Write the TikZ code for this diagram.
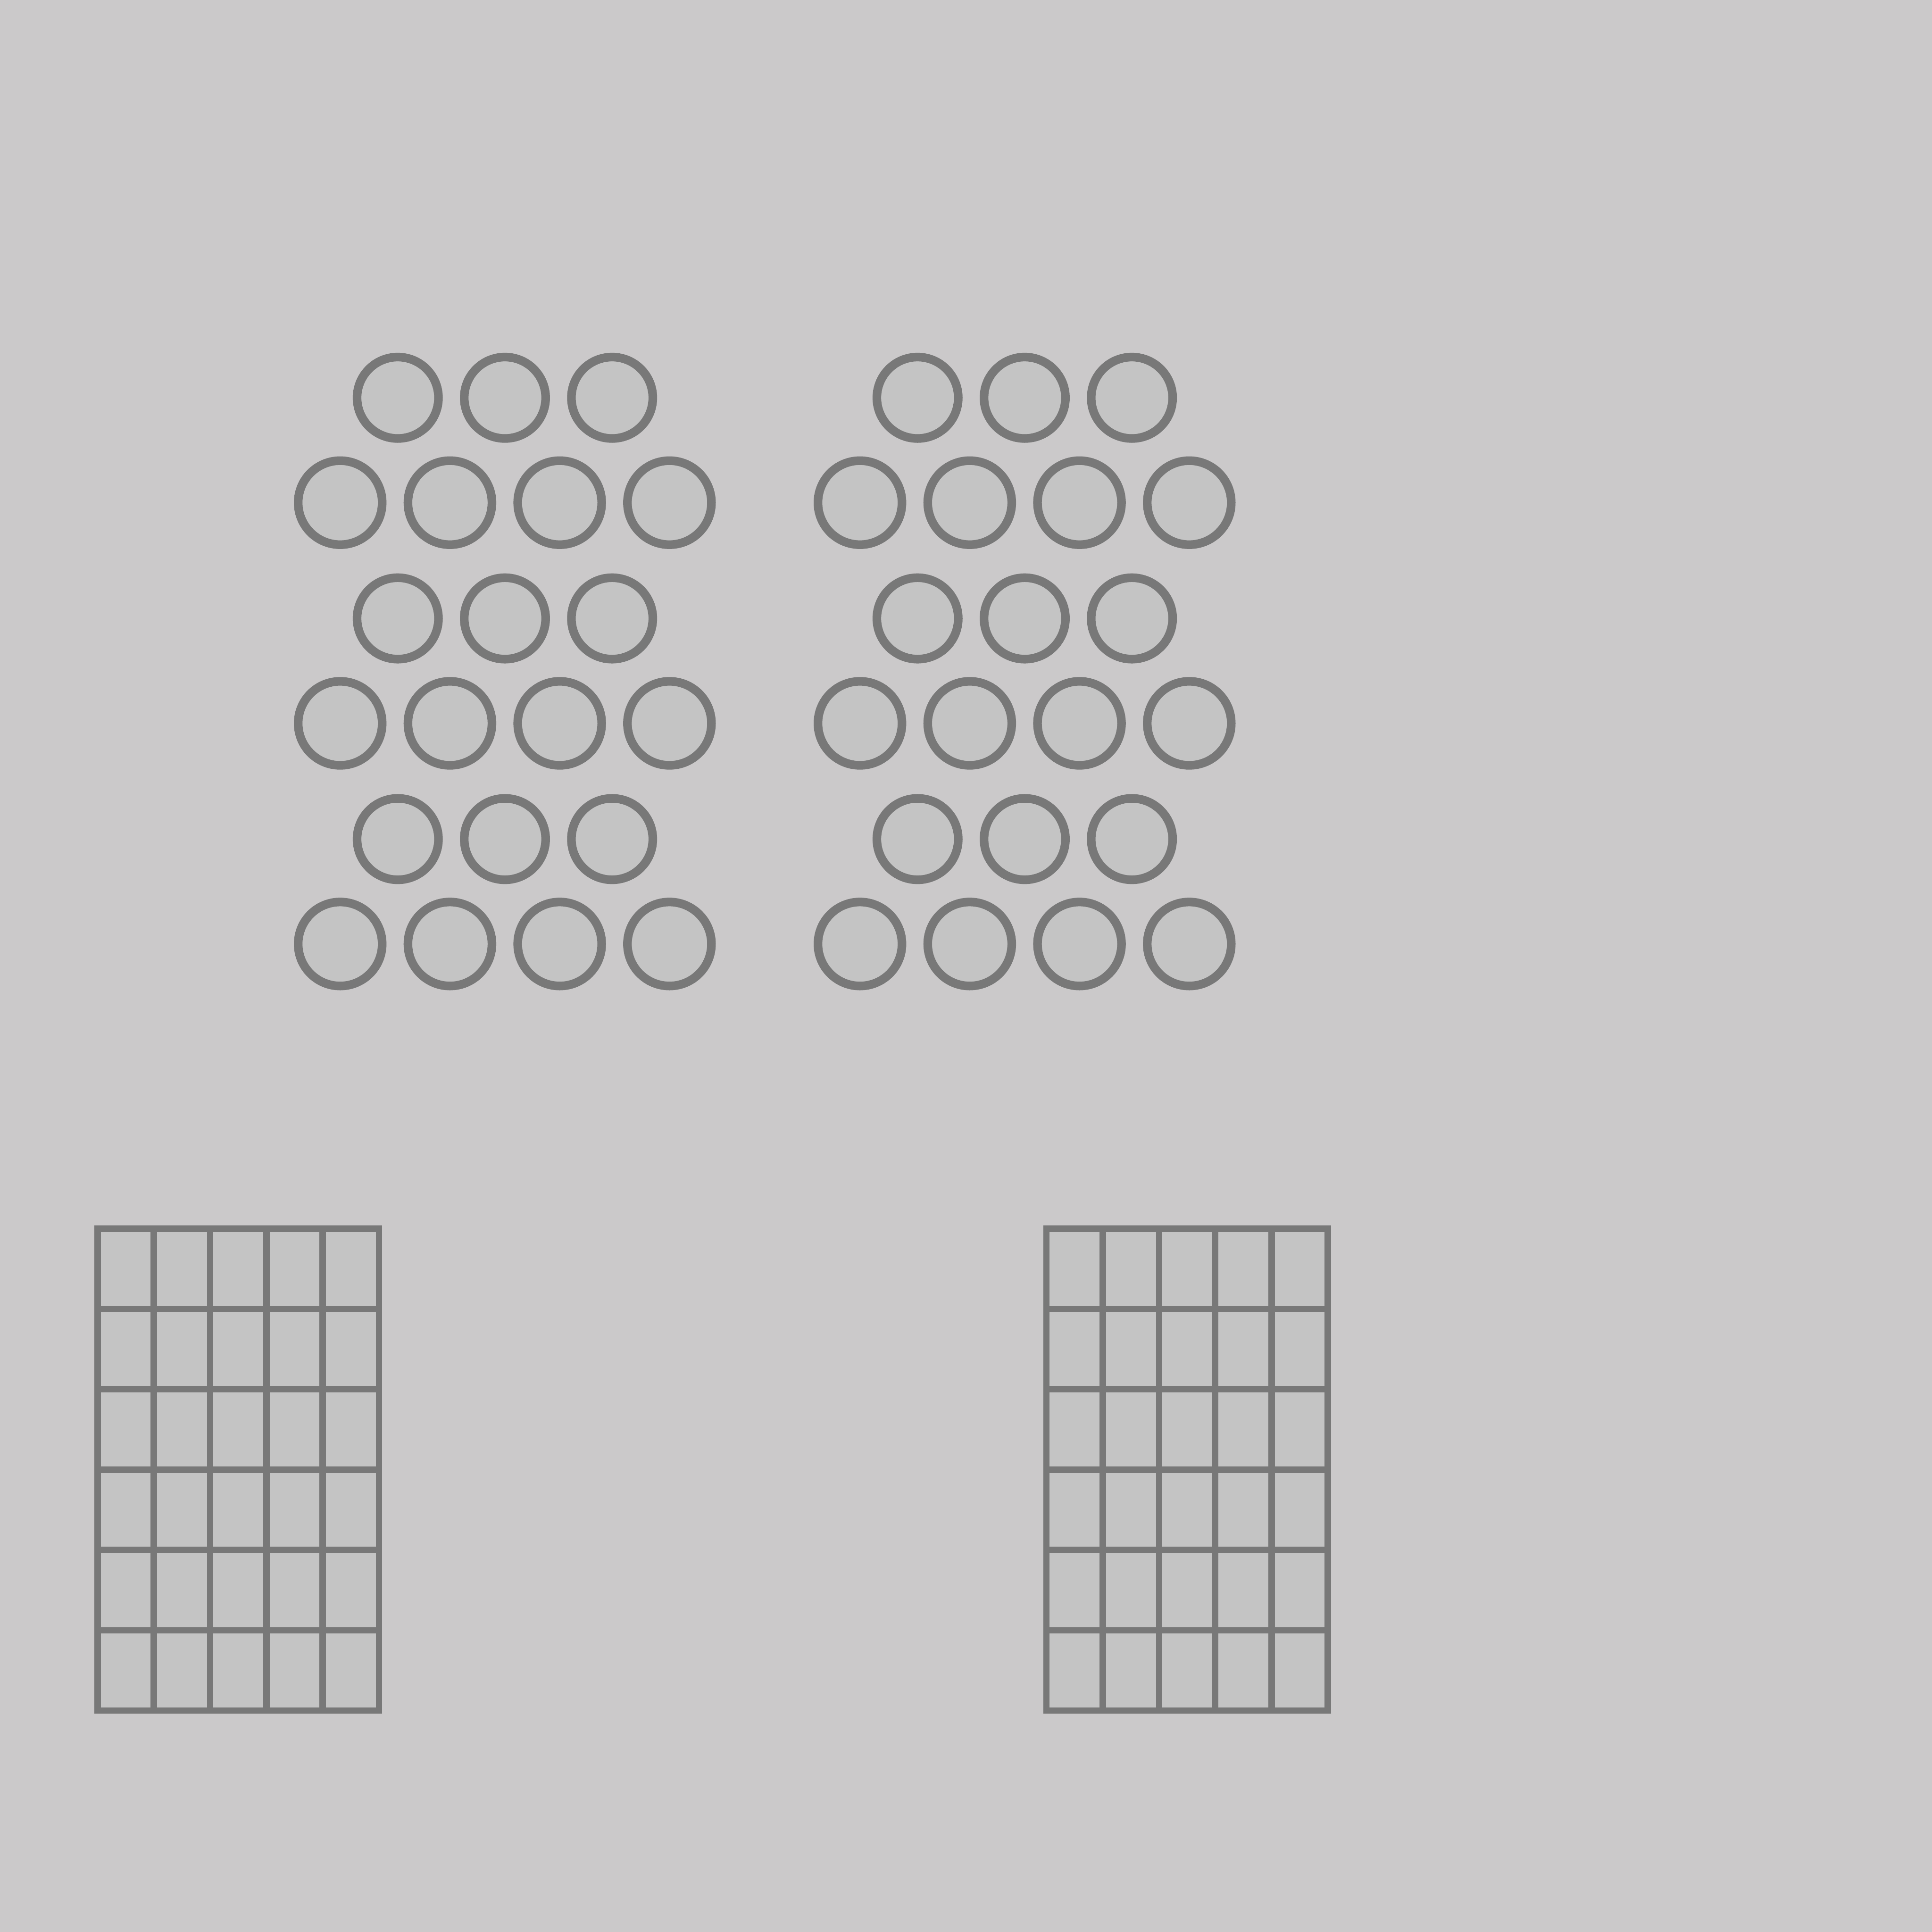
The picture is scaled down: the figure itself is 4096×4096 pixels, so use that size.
\documentclass[tikz,border=0pt]{standalone}
\definecolor{bg}{RGB}{203,201,202}
\definecolor{cellfill}{RGB}{196,196,196}
\definecolor{edge}{RGB}{120,120,120}
\begin{document}
\begin{tikzpicture}[x=0.01cm,y=-0.01cm,
  seat/.style={circle, draw=edge, fill=cellfill, line width=5.2pt, inner sep=0pt},
  smallseat/.style={seat, minimum size=1.725cm},
  bigseat/.style={seat, minimum size=1.78cm},
  gridline/.style={draw=edge, line width=3.84pt, line cap=rect}]
\fill[bg] (0,0) rectangle (4096,4096);
\useasboundingbox (0,0) rectangle (4096,4096);
\foreach \ox/\c in {0/L,1102/R} {
  \foreach \r in {0,1,2} {
    \foreach \i in {0,1,2}
      \node[smallseat] (\c a\r\i) at ({843.3+\ox+227.2*\i},{843.3+467.8*\r}) {};
    \foreach \i in {0,1,2,3}
      \node[bigseat] (\c b\r\i) at ({721.2+\ox+232.7*\i},{1065.7+467.8*\r}) {};
  }
}
\foreach \gx in {206.9,2218.7} {
  \fill[cellfill] (\gx,2605) rectangle ++(596.5,1021.7);
  \foreach \k in {0,...,5}
    \draw[gridline] ({\gx+119.3*\k},2605) -- ++(0,1021.7);
  \foreach \k in {0,...,6}
    \draw[gridline] (\gx,{2605+170.28*\k}) -- ++(596.5,0);
}
\end{tikzpicture}
\end{document}
